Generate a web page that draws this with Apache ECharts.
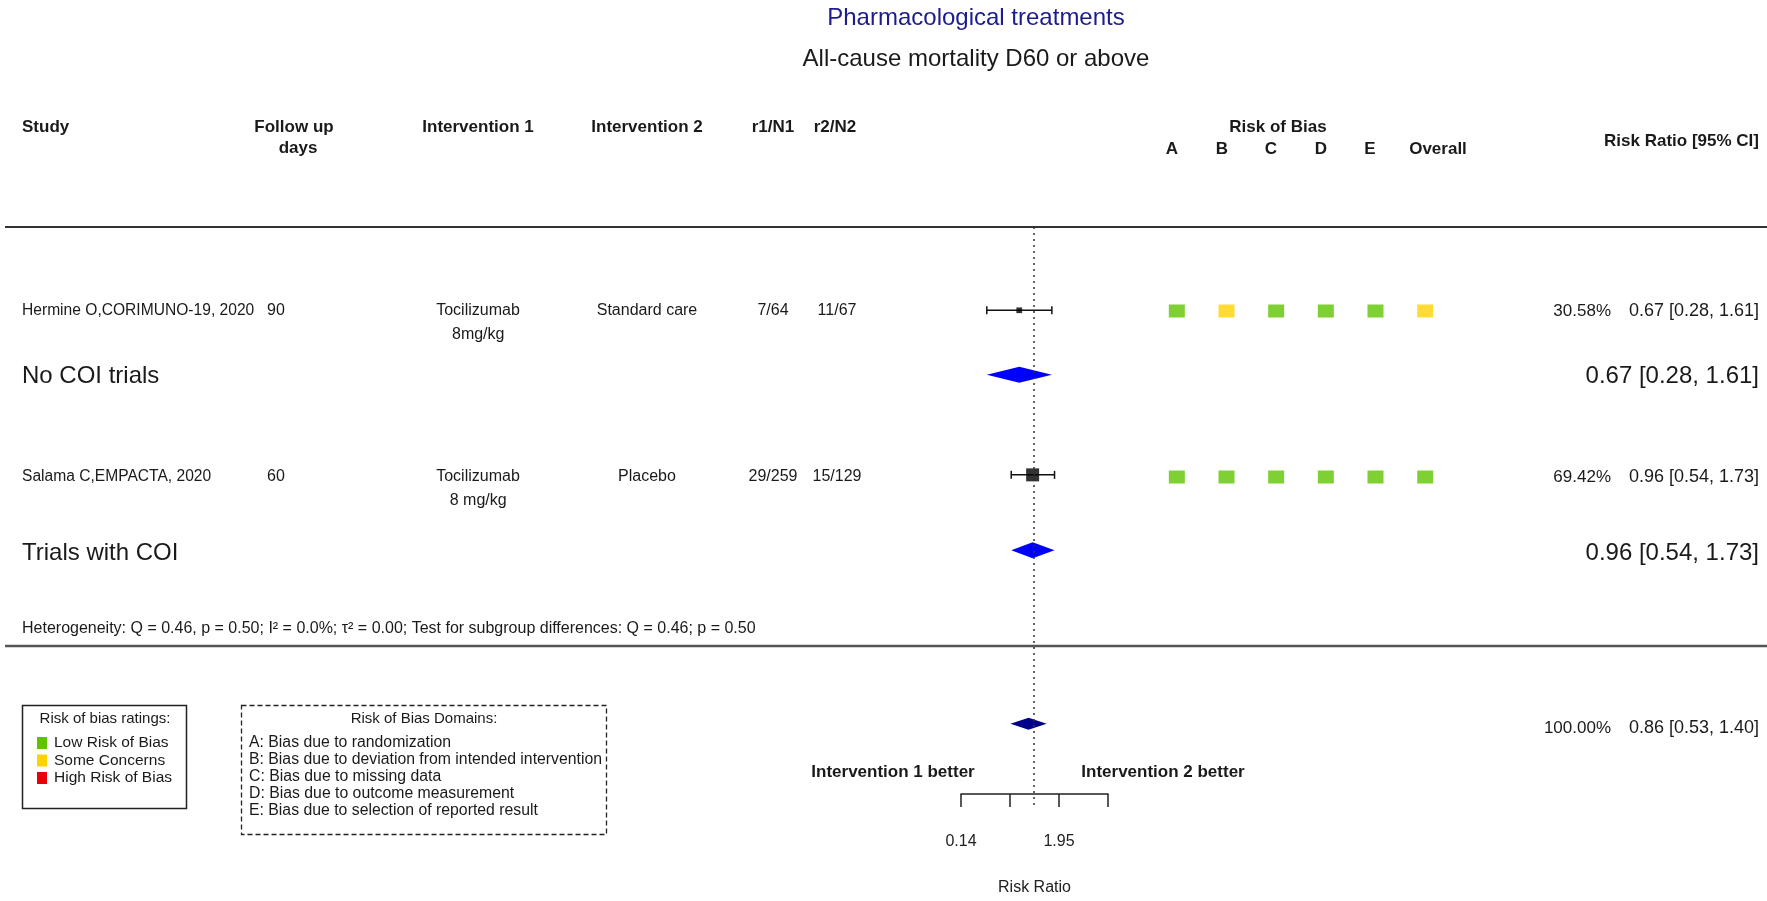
<!DOCTYPE html>
<html>
<head>
<meta charset="utf-8">
<title>All-cause mortality D60 or above</title>
<script src="https://cdn.jsdelivr.net/npm/echarts@6.0.0/dist/echarts.min.js"></script>
<style>
    html, body { margin: 0; padding: 0; background: #fff; }
    #main { width: 1767px; height: 901px; }
</style>
</head>
<body>
<div id="main"></div>
<script>
// ---- data ----
var studies = ['Hermine O,CORIMUNO-19, 2020', 'Salama C,EMPACTA, 2020'];
var followUp = ['90', '60'];
var intervention1 = [['Tocilizumab', ' 8mg/kg'], ['Tocilizumab', ' 8 mg/kg']];
var intervention2 = ['Standard care', 'Placebo'];
var r1N1 = ['7/64', '29/259'];
var r2N2 = ['11/67', '15/129'];
var studyRR = [0.67, 0.96];
var studyLower = [0.28, 0.54];
var studyUpper = [1.61, 1.73];
var studyWeight = [30.58, 69.42];

var subgroups = ['No COI trials', 'Trials with COI'];
var subgroupRR = [0.67, 0.96];
var subgroupLower = [0.28, 0.54];
var subgroupUpper = [1.61, 1.73];

var overallRR = [0.86];
var overallLower = [0.53];
var overallUpper = [1.40];
var overallWeight = [100.00];

var robDomains = ['A', 'B', 'C', 'D', 'E', 'Overall'];
var robRatings = [
    ['Low', 'Some', 'Low', 'Low', 'Low', 'Some'],
    ['Low', 'Low', 'Low', 'Low', 'Low', 'Low']
];
var robLegend = ['Low Risk of Bias', 'Some Concerns', 'High Risk of Bias'];
var robDomainText = [
    'A: Bias due to randomization',
    'B: Bias due to deviation from intended intervention',
    'C: Bias due to missing data',
    'D: Bias due to outcome measurement',
    'E: Bias due to selection of reported result'
];

var axisTicks = [0.14, 0.52, 1.95, 7.28];
var axisTickLabels = [0.14, 1.95];
var heterogeneityText = 'Heterogeneity: Q = 0.46, p = 0.50; I\u00B2 = 0.0%; \u03C4\u00B2 = 0.00; Test for subgroup differences: Q = 0.46; p = 0.50';

// ---- layout ----
var FONT = '"Liberation Sans", Arial, sans-serif';
var robColors = {Low: '#5ec400', Some: '#ffd200', High: '#e8000b'};
// vertical slot (px) of each table row
var studyRowY = [311, 477];
var subgroupRowY = [376, 553];
var overallRowY = [728];

function fmt(v) { return v.toFixed(2); }

function txt(text, x, y, opt) {
    opt = opt || {};
    return {
        type: 'text', x: x, y: y, silent: true,
        style: {
            text: text,
            fill: opt.color || '#1a1a1a',
            font: (opt.bold ? 'bold ' : '') + (opt.size || 16) + 'px ' + FONT,
            align: opt.align || 'left',
            verticalAlign: 'middle'
        }
    };
}

var g = [];
g.push(txt('Pharmacological treatments', 976, 18, {size: 24, align: 'center', color: '#1c1c8e'}));
g.push(txt('All-cause mortality D60 or above', 976, 59, {size: 24, align: 'center'}));

// header
function hdr(t, x, y, align) {
    return txt(t, x, y, {bold: true, size: 17, align: align || 'center'});
}
g.push(hdr('Study', 22, 127, 'left'));
g.push(hdr('Follow up', 294, 127));
g.push(hdr('days', 298, 148));
g.push(hdr('Intervention 1', 478, 127));
g.push(hdr('Intervention 2', 647, 127));
g.push(hdr('r1/N1', 773, 127));
g.push(hdr('r2/N2', 835, 127));
g.push(hdr('Risk of Bias', 1278, 127));
var letterX = [1172, 1222, 1271, 1321, 1370, 1438];
robDomains.forEach(function (d, i) {
    g.push(hdr(d, letterX[i], 149));
});
g.push(hdr('Risk Ratio [95% CI]', 1759, 141, 'right'));

g.push({type: 'line', silent: true, shape: {x1: 5, y1: 227, x2: 1767, y2: 227}, style: {stroke: '#333', lineWidth: 2}});
g.push({type: 'line', silent: true, shape: {x1: 5, y1: 646, x2: 1767, y2: 646}, style: {stroke: '#555', lineWidth: 2.5}});

// study rows
studies.forEach(function (s, i) {
    var y = studyRowY[i];
    g.push(txt(s, 22, y, {size: 15.6}));
    g.push(txt(followUp[i], 267, y));
    g.push(txt(intervention1[i][0], 478, y, {align: 'center'}));
    g.push(txt(intervention1[i][1], 476, y + 24, {align: 'center'}));
    g.push(txt(intervention2[i], 647, y, {align: 'center'}));
    g.push(txt(r1N1[i], 773, y, {align: 'center'}));
    g.push(txt(r2N2[i], 837, y, {align: 'center'}));
    g.push(txt(studyWeight[i].toFixed(2) + '%', 1611, y, {align: 'right', size: 17}));
    g.push(txt(fmt(studyRR[i]) + ' [' + fmt(studyLower[i]) + ', ' + fmt(studyUpper[i]) + ']', 1759, y, {align: 'right', size: 18}));
});
subgroups.forEach(function (s, i) {
    var y = subgroupRowY[i];
    g.push(txt(s, 22, y, {size: 24}));
    g.push(txt(fmt(subgroupRR[i]) + ' [' + fmt(subgroupLower[i]) + ', ' + fmt(subgroupUpper[i]) + ']', 1759, y, {align: 'right', size: 24}));
});
g.push(txt(heterogeneityText, 22, 629, {size: 16}));
g.push(txt(overallWeight[0].toFixed(2) + '%', 1611, overallRowY[0], {align: 'right', size: 17}));
g.push(txt(fmt(overallRR[0]) + ' [' + fmt(overallLower[0]) + ', ' + fmt(overallUpper[0]) + ']', 1759, overallRowY[0], {align: 'right', size: 18}));

g.push(hdr('Intervention 1 better', 893, 772));
g.push(hdr('Intervention 2 better', 1163, 772));

// risk of bias legends
g.push({type: 'rect', silent: true, shape: {x: 22.5, y: 705.5, width: 164, height: 103}, style: {fill: '#fff', stroke: '#222', lineWidth: 1.5}});
g.push(txt('Risk of bias ratings:', 105, 719, {size: 15, align: 'center'}));
robLegend.forEach(function (t, i) {
    var y = 743 + i * 17.5;
    g.push({type: 'rect', silent: true, shape: {x: 37, y: y - 6, width: 10, height: 12}, style: {fill: robColors[['Low', 'Some', 'High'][i]]}});
    g.push(txt(t, 54, y, {size: 15.5}));
});
g.push({type: 'rect', silent: true, shape: {x: 241.5, y: 705.5, width: 365, height: 129}, style: {fill: 'none', stroke: '#222', lineWidth: 1.3, lineDash: [5, 3]}});
g.push(txt('Risk of Bias Domains:', 424, 719, {size: 15, align: 'center'}));
robDomainText.forEach(function (t, i) {
    g.push(txt(t, 249, 743 + i * 17, {size: 15.8}));
});

// ---- series data ----
var ciData = studies.map(function (s, i) { return [studyLower[i], studyUpper[i], studyRowY[i]]; });
var pointData = studies.map(function (s, i) { return [studyRR[i], studyRowY[i], studyWeight[i]]; });
var subgroupData = subgroups.map(function (s, i) { return [subgroupRR[i], subgroupLower[i], subgroupUpper[i], subgroupRowY[i]]; });
var overallData = overallRR.map(function (v, i) { return [v, overallLower[i], overallUpper[i], overallRowY[i]]; });
var robData = [];
robRatings.forEach(function (row, i) {
    row.forEach(function (r, j) { robData.push([j, studyRowY[i], r]); });
});
var maxWeight = Math.max.apply(null, studyWeight);

function diamond(halfH, color) {
    return function (params, api) {
        var c = api.coord([api.value(0), api.value(3)]);
        var l = api.coord([api.value(1), api.value(3)]);
        var h = api.coord([api.value(2), api.value(3)]);
        return {
            type: 'polygon',
            shape: {points: [[l[0], c[1]], [c[0], c[1] - halfH], [h[0], c[1]], [c[0], c[1] + halfH]]},
            style: {fill: color}
        };
    };
}

var yAxisCommon = {type: 'value', min: 227, max: 812, inverse: true, show: false};

option = {
    backgroundColor: '#fff',
    animation: false,
    textStyle: {fontFamily: FONT},
    graphic: {elements: g},
    grid: [
        {left: 961, width: 147, top: 227, bottom: 89},
        {left: 1152, width: 298, top: 227, bottom: 89}
    ],
    xAxis: [{
        type: 'log',
        gridIndex: 0,
        min: 0.14,
        max: 7.28,
        offset: -13,
        axisLine: {show: true, lineStyle: {color: '#222', width: 1.5}},
        axisTick: {show: true, customValues: axisTicks, length: 13, lineStyle: {color: '#222', width: 1.5}},
        axisLabel: {customValues: axisTickLabels, margin: 40, fontSize: 16, color: '#222', fontFamily: FONT,
            formatter: function (v) { return Number(v).toFixed(2); }},
        splitLine: {show: false},
        minorTick: {show: false},
        name: 'Risk Ratio',
        nameLocation: 'middle',
        nameGap: 86,
        nameTextStyle: {fontSize: 16, color: '#222', fontFamily: FONT}
    }, {
        type: 'category',
        gridIndex: 1,
        data: robDomains,
        show: false
    }],
    yAxis: [
        echarts.util.extend({gridIndex: 0}, yAxisCommon),
        echarts.util.extend({gridIndex: 1}, yAxisCommon)
    ],
    series: [{
        name: 'CI',
        type: 'custom',
        xAxisIndex: 0, yAxisIndex: 0,
        data: ciData,
        encode: {x: [0, 1], y: 2},
        renderItem: function (params, api) {
            var y = api.value(2);
            var p1 = api.coord([api.value(0), y]);
            var p2 = api.coord([api.value(1), y]);
            var st = {stroke: '#111', lineWidth: 1.5};
            return {type: 'group', children: [
                {type: 'line', shape: {x1: p1[0], y1: p1[1], x2: p2[0], y2: p2[1]}, style: st},
                {type: 'line', shape: {x1: p1[0], y1: p1[1] - 4, x2: p1[0], y2: p1[1] + 4}, style: st},
                {type: 'line', shape: {x1: p2[0], y1: p2[1] - 4, x2: p2[0], y2: p2[1] + 4}, style: st}
            ]};
        },
        markLine: {
            silent: true,
            symbol: 'none',
            label: {show: false},
            lineStyle: {color: '#333', type: [2, 4], width: 1.5},
            data: [{xAxis: 1}]
        },
        z: 3
    }, {
        name: 'Study',
        type: 'scatter',
        xAxisIndex: 0, yAxisIndex: 0,
        data: pointData,
        symbol: 'rect',
        symbolSize: function (v) { return 13 * v[2] / maxWeight; },
        itemStyle: {color: '#000'},
        z: 4
    }, {
        name: 'Subgroup',
        type: 'custom',
        xAxisIndex: 0, yAxisIndex: 0,
        data: subgroupData,
        encode: {x: [0, 1, 2], y: 3},
        renderItem: diamond(8, '#0000ff'),
        z: 4
    }, {
        name: 'Overall',
        type: 'custom',
        xAxisIndex: 0, yAxisIndex: 0,
        data: overallData,
        encode: {x: [0, 1, 2], y: 3},
        renderItem: diamond(6, '#00008b'),
        z: 4
    }, {
        name: 'Risk of Bias',
        type: 'scatter',
        xAxisIndex: 1, yAxisIndex: 1,
        data: robData,
        symbol: 'rect',
        symbolSize: [16, 13],
        itemStyle: {color: function (p) { return robColors[p.value[2]]; }}
    }]
};

var myChart = echarts.init(document.getElementById('main'));
if (option && typeof option === "object") {
    myChart.setOption(option, true);
}
</script>
</body>
</html>
